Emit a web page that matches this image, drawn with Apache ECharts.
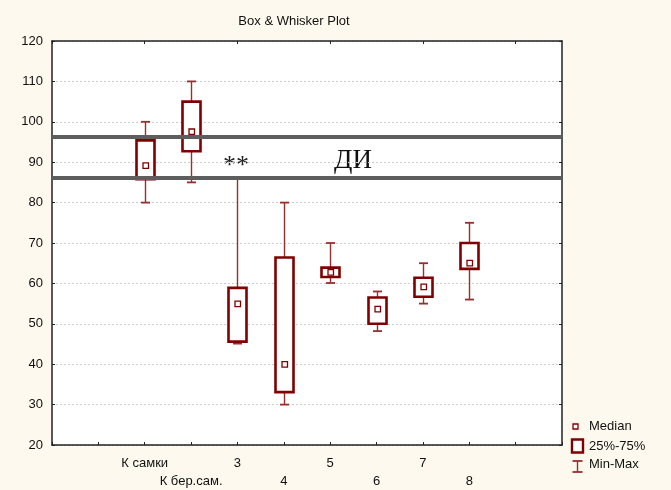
<!DOCTYPE html>
<html>
<head>
<meta charset="utf-8">
<script src="https://cdn.jsdelivr.net/npm/echarts@6/dist/echarts.min.js"></script>
<style>
html, body { margin: 0; padding: 0; background: #fdf9ee; }
#chart { width: 671px; height: 490px; }
</style>
</head>
<body>
<div id="chart"></div>
<script>
// data
var categories = ['К самки', 'К бер.сам.', '3', '4', '5', '6', '7', '8'];
var mins    = [80,   85,    45.1, 30.0, 60.1, 48.2, 55.0, 56.0];
var q1s     = [85.8, 92.7,  45.6, 33.1, 61.6, 50.0, 56.7, 63.6];
var medians = [89.2, 97.6,  55.0, 40.0, 62.8, 53.7, 59.2, 65.1];
var q3s     = [95.4, 105.0, 58.9, 66.4, 63.9, 56.5, 61.4, 70.0];
var maxs    = [100,  110,   86.0, 80.0, 70.0, 58.0, 65.0, 75.0];
var ciLines = [96.2, 86.2];   // ДИ
var yMin = 20, yMax = 120, yStep = 10;

// two empty slots on each side, like the original
var slots = ['', ''].concat(categories, ['', '']);
var boxData = [];
for (var i = 0; i < categories.length; i++) {
    boxData.push([i + 2, mins[i], q1s[i], medians[i], q3s[i], maxs[i]]);
}

var dark = '#800000';
var whisk = '#9b2d2d';

function renderItem(params, api) {
    var x = api.value(0);
    var pMin = api.coord([x, api.value(1)]);
    var pQ1 = api.coord([x, api.value(2)]);
    var pMed = api.coord([x, api.value(3)]);
    var pQ3 = api.coord([x, api.value(4)]);
    var pMax = api.coord([x, api.value(5)]);
    var cx = Math.round(pMed[0]) + 0.5;
    return {
        type: 'group',
        children: [
            { type: 'line', shape: { x1: cx, y1: pMax[1], x2: cx, y2: pQ3[1] }, style: { stroke: whisk, lineWidth: 1.4 } },
            { type: 'line', shape: { x1: cx, y1: pQ1[1], x2: cx, y2: pMin[1] }, style: { stroke: whisk, lineWidth: 1.4 } },
            { type: 'line', shape: { x1: cx - 4.5, y1: pMax[1], x2: cx + 4.5, y2: pMax[1] }, style: { stroke: whisk, lineWidth: 1.8 } },
            { type: 'line', shape: { x1: cx - 4.5, y1: pMin[1], x2: cx + 4.5, y2: pMin[1] }, style: { stroke: whisk, lineWidth: 1.8 } },
            { type: 'rect', shape: { x: cx - 9, y: pQ3[1], width: 18, height: pQ1[1] - pQ3[1] }, style: { fill: '#fff', stroke: dark, lineWidth: 2.6 } },
            { type: 'rect', shape: { x: cx - 2.5, y: pMed[1] - 2.5, width: 5.5, height: 5.5 }, style: { fill: '#fff', stroke: dark, lineWidth: 1.3 } }
        ]
    };
}

var chart = echarts.init(document.getElementById('chart'));
var font = 'Liberation Sans, Arial, sans-serif';
var option = {
    backgroundColor: '#fdf9ee',
    animation: false,
    title: {
        text: 'Box & Whisker Plot',
        left: 289,
        top: 10,
        textAlign: 'center',
        textStyle: { fontFamily: font, fontSize: 13, fontWeight: 'normal', color: '#111' }
    },
    grid: {
        left: 52, top: 41, right: 109, bottom: 44,
        show: true, backgroundColor: '#fff', borderWidth: 0
    },
    xAxis: [{
        type: 'category',
        data: slots,
        boundaryGap: false,
        axisLine: { lineStyle: { color: '#222', width: 1.5 } },
        axisTick: { inside: true, length: 3, lineStyle: { color: '#222' } },
        axisLabel: {
            interval: 0,
            margin: 9,
            fontFamily: font, fontSize: 13, color: '#111', lineHeight: 18,
            formatter: function (v, idx) { return (idx % 2 === 1 && v !== '') ? '\n' + v : v; }
        },
        splitLine: { show: false }
    }, {
        type: 'category',
        data: slots,
        position: 'top',
        boundaryGap: false,
        axisLine: { lineStyle: { color: '#222', width: 1.5 } },
        axisTick: { inside: true, length: 3, lineStyle: { color: '#222' } },
        axisLabel: { show: false },
        splitLine: { show: false }
    }],
    yAxis: [{
        type: 'value',
        min: yMin, max: yMax, interval: yStep,
        axisLine: { show: true, lineStyle: { color: '#222', width: 1.5 } },
        axisTick: { show: true, inside: true, length: 3, lineStyle: { color: '#222' } },
        axisLabel: { margin: 9, fontFamily: font, fontSize: 13, color: '#111' },
        splitLine: { show: true, lineStyle: { color: '#cccccc', type: [2, 2], width: 1 } }
    }, {
        type: 'value',
        position: 'right',
        min: yMin, max: yMax, interval: yStep,
        axisLine: { show: true, lineStyle: { color: '#222', width: 1.5 } },
        axisTick: { show: true, inside: true, length: 3, lineStyle: { color: '#222' } },
        axisLabel: { show: false },
        splitLine: { show: false }
    }],
    series: [{
        type: 'custom',
        xAxisIndex: 0,
        yAxisIndex: 0,
        renderItem: renderItem,
        encode: { x: 0, y: [1, 2, 3, 4, 5] },
        data: boxData,
        markLine: {
            silent: true,
            symbol: 'none',
            label: { show: false },
            lineStyle: { color: '#5e5e5e', width: 4, type: 'solid' },
            data: ciLines.map(function (v) { return { yAxis: v }; })
        }
    }],
    graphic: [
        { type: 'text', left: 223, top: 153, style: { text: '**', font: '26px "Liberation Serif", serif', fill: '#222' } },
        { type: 'text', left: 334, top: 147, style: { text: 'ДИ', font: '27px "Liberation Serif", serif', fill: '#111' } },
        // legend
        { type: 'rect', shape: { x: 573, y: 424, width: 5, height: 5 }, style: { fill: '#fff', stroke: dark, lineWidth: 1.3 } },
        { type: 'text', left: 589, top: 420, style: { text: 'Median', font: '13px ' + font, fill: '#111' } },
        { type: 'rect', shape: { x: 572, y: 439.5, width: 11, height: 13 }, style: { fill: '#fff', stroke: dark, lineWidth: 2.4 } },
        { type: 'text', left: 589, top: 440, style: { text: '25%-75%', font: '13px ' + font, fill: '#111' } },
        { type: 'line', shape: { x1: 577.5, y1: 461, x2: 577.5, y2: 472 }, style: { stroke: whisk, lineWidth: 1.4 } },
        { type: 'line', shape: { x1: 572.5, y1: 461, x2: 582.5, y2: 461 }, style: { stroke: whisk, lineWidth: 1.8 } },
        { type: 'line', shape: { x1: 572.5, y1: 472, x2: 582.5, y2: 472 }, style: { stroke: whisk, lineWidth: 1.8 } },
        { type: 'text', left: 589, top: 458, style: { text: 'Min-Max', font: '13px ' + font, fill: '#111' } }
    ]
};
chart.setOption(option);
</script>
</body>
</html>
